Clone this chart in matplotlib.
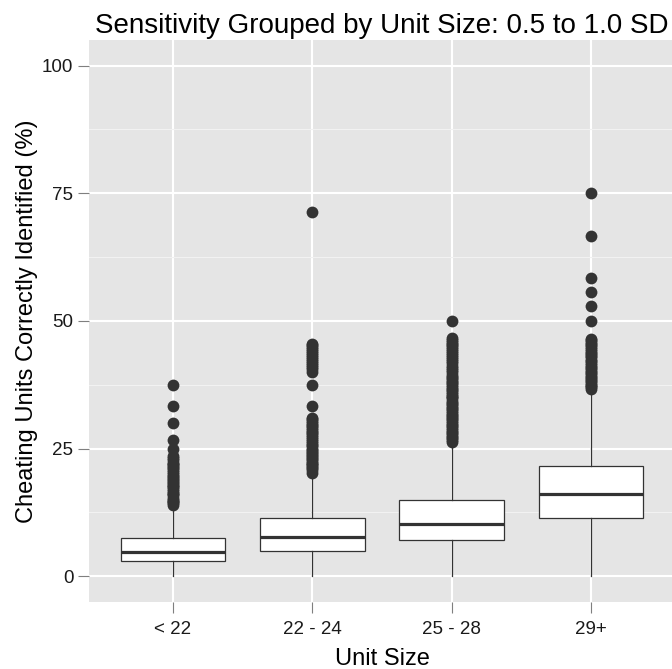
import matplotlib
matplotlib.use("Agg")
import matplotlib.pyplot as plt
from matplotlib.ticker import MultipleLocator

plt.rcParams['font.family'] = ['Liberation Sans', 'DejaVu Sans']

# unit size groups
categories = ["< 22", "22 - 24", "25 - 28", "29+"]

# box statistics (% correctly identified)
q1 = [2.9, 5.0, 7.1, 11.3]
medians = [4.8, 7.6, 10.3, 16.0]
q3 = [7.5, 11.4, 14.9, 21.6]
whisker_low = [0.0, 0.0, 0.0, 0.0]
whisker_high = [13.8, 20.0, 26.0, 36.3]

# outlying points per group
outliers_lt22 = [37.5, 33.3, 30.0, 26.7, 25.0,
                 23.5, 23.1, 22.7, 22.2, 22.0, 21.7, 21.4, 21.1, 20.8, 20.4,
                 20.0, 19.6, 19.4, 19.0, 18.8, 18.5, 18.2, 17.9, 17.6, 17.4,
                 17.1, 16.7, 16.3, 16.0, 15.8, 15.4, 15.0, 14.8, 14.6, 14.3,
                 14.0]
outliers_22_24 = [71.4,
                  45.5, 45.2, 44.8, 44.4, 44.1, 43.8, 43.3, 42.9, 42.5, 42.1,
                  41.7, 41.4, 40.9, 40.5, 40.0, 37.5, 33.3,
                  31.0, 30.8, 30.4, 30.0, 29.7, 29.4, 29.0, 28.6, 28.3, 28.0,
                  27.6, 27.3, 26.9, 26.5, 26.1, 25.7, 25.4, 25.0, 24.7, 24.4,
                  24.1, 23.8, 23.5, 23.1, 22.9, 22.6, 22.2, 22.0, 21.7, 21.4,
                  21.1, 20.7, 20.3]
outliers_25_28 = [50.0,
                  46.7, 46.2, 45.8, 45.5, 45.2, 44.8, 44.4, 44.1, 43.8, 43.3,
                  42.9, 42.5, 42.1, 41.7, 41.2, 40.7, 40.4, 40.0, 39.4, 39.1,
                  38.9, 38.5, 38.1, 37.9, 37.5, 37.0, 36.7, 36.4, 36.0, 35.7,
                  35.3, 35.0, 34.8, 34.4, 34.0, 33.7, 33.3, 33.0, 32.7, 32.4,
                  32.0, 31.6, 31.3, 31.0, 30.8, 30.4, 30.0, 29.7, 29.4, 29.0,
                  28.6, 28.3, 28.0, 27.6, 27.3, 27.0, 26.7, 26.3]
outliers_29plus = [75.0, 66.7, 58.3, 55.6, 52.9, 50.0,
                   46.4, 46.2, 45.8, 45.5, 45.2, 44.8, 44.4, 44.1, 43.8, 43.5,
                   43.2, 42.9, 42.4, 42.1, 41.7, 41.4, 41.0, 40.7, 40.4, 40.0,
                   39.7, 39.4, 39.1, 38.9, 38.5, 38.2, 37.9, 37.5, 37.3, 37.0,
                   36.6]
outliers = [outliers_lt22, outliers_22_24, outliers_25_28, outliers_29plus]

stats = []
for i, name in enumerate(categories):
    stats.append({"label": name, "q1": q1[i], "med": medians[i], "q3": q3[i],
                  "whislo": whisker_low[i], "whishi": whisker_high[i],
                  "fliers": outliers[i]})

fig = plt.figure(figsize=(6.72, 6.69), dpi=100)
ax = fig.add_axes([0.133, 0.1006, 0.8708, 0.8396])
ax.set_facecolor('#E5E5E5')
ax.set_axisbelow(True)

dark = '#333333'
ax.bxp(stats, positions=range(1, len(categories) + 1), widths=0.75,
       patch_artist=True, showcaps=False,
       boxprops=dict(facecolor='white', edgecolor=dark, linewidth=0.9),
       medianprops=dict(color=dark, linewidth=2.3),
       whiskerprops=dict(color=dark, linewidth=0.9),
       flierprops=dict(marker='o', markersize=8.5, markerfacecolor=dark,
                       markeredgecolor='none', linestyle='none'))

ax.set_xlim(0.4, 4.6)
ax.set_ylim(-5, 105)
ax.set_xticks(range(1, len(categories) + 1))
ax.set_xticklabels(categories)
ax.yaxis.set_major_locator(MultipleLocator(25))
ax.yaxis.set_minor_locator(MultipleLocator(12.5))

ax.grid(which='major', color='white', linewidth=1.5)
ax.grid(which='minor', axis='y', color='#F2F2F2', linewidth=0.8)
for s in ax.spines.values():
    s.set_visible(False)

ax.tick_params(which='major', length=8, width=0.8, color='#7F7F7F',
               labelsize=13.5, labelcolor='#1A1A1A', pad=3.5)
ax.tick_params(axis='x', which='major', pad=6)
ax.tick_params(which='minor', length=0)

ax.set_title("Sensitivity Grouped by Unit Size: 0.5 to 1.0 SD",
             fontsize=20, pad=5)
ax.set_xlabel("Unit Size", fontsize=17, labelpad=7)
ax.set_ylabel("Cheating Units Correctly Identified (%)", fontsize=17,
              labelpad=3)

fig.savefig("out.png", dpi=100)
